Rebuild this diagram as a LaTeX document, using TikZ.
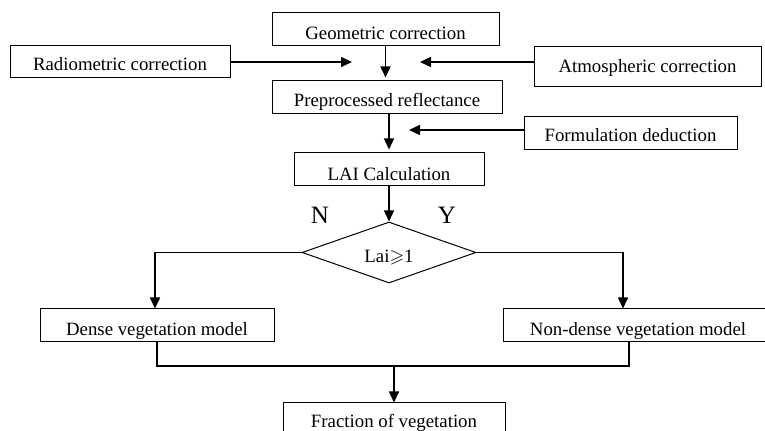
\documentclass[tikz,border=0pt]{standalone}
\usepackage{amssymb}
\usepackage{fontspec}
\setmainfont{Liberation Serif}
\usetikzlibrary{shapes.geometric,arrows.meta}
\begin{document}
\begin{tikzpicture}[x=0.5pt,y=-0.5pt,
  box/.style={draw, line width=0.5pt, inner sep=0pt, text depth=0pt,
    font=\fontsize{9.4}{11}\selectfont},
  arr/.style={line width=0.8pt, -{Triangle[length=5.5pt,width=5pt]}},
  plain/.style={line width=0.6pt},
  yn/.style={anchor=base, inner sep=0pt, font=\fontsize{12.5}{14}\selectfont}]
\clip (0,0) rectangle (765,431);
\fill[white] (0,0) rectangle (765,431);
% boxes
\node[box, minimum width=113.5pt, minimum height=16.5pt, text height=10.5pt] (geo) at (385.5,29.5) {Geometric correction};
\node[box, minimum width=110pt, minimum height=16pt, text height=9pt] (rad) at (120,62) {Radiometric correction};
\node[box, minimum width=113.5pt, minimum height=20pt, text height=6pt] (atm) at (647.5,67) {Atmospheric correction};
\node[box, minimum width=115pt, minimum height=16.5pt, text height=9.5pt] (pre) at (387,97.5) {Preprocessed reflectance};
\node[box, minimum width=106.5pt, minimum height=16.5pt, text height=8.5pt] (form) at (630.5,133.5) {Formulation deduction};
\node[box, minimum width=95pt, minimum height=16.5pt, text height=11pt] (lai) at (389,169.5) {LAI Calculation};
\node[box, diamond, aspect=2.85, minimum width=87pt, minimum height=30.5pt, text height=10.5pt] (dec) at (389,252.5) {Lai$\geqslant$1};
\node[box, minimum width=117pt, minimum height=16.5pt, text height=10.5pt] (dense) at (157,325.5) {Dense vegetation model};
\node[box, minimum width=135pt, minimum height=16.5pt, text height=10.5pt] (nondense) at (638,325.5) {Non-dense vegetation model};
\node[box, minimum width=111pt, minimum height=16.5pt, text height=8.5pt] (frac) at (394,419.5) {Fraction of vegetation};
% labels
\node[yn] (lN) at (320,224) {N};
\node[yn] (lY) at (447,224) {Y};
% coordinates
\coordinate (crad) at (352,62);
\coordinate (catm) at (420,62);
\coordinate (cform) at (409,130);
\coordinate (cl) at (155,252.5);
\coordinate (cr) at (623,252.5);
\coordinate (jl) at (157,366);
\coordinate (jr) at (629,366);
% connectors
\draw[arr, shorten >=1.5pt] (geo.south) -- (geo.south |- pre.north);
\draw[arr] (rad.east) -- (crad);
\draw[arr] (catm -| atm.west) -- (catm);
\draw[arr, shorten >=1.5pt] (pre.south -| lai.north) -- (lai.north);
\draw[arr] (cform -| form.west) -- (cform);
\draw[arr] (lai.south) -- (dec.north);
\draw[plain] (dec.west) -- (cl);
\draw[arr] (cl) -- (cl |- dense.north);
\draw[plain] (dec.east) -- (cr);
\draw[arr] (cr) -- (cr |- nondense.north);
\draw[plain] (dense.south) -- (jl) -- (jr) -- (jr |- nondense.south);
\draw[arr] (frac.north |- jl) -- (frac.north);
\end{tikzpicture}
\end{document}
